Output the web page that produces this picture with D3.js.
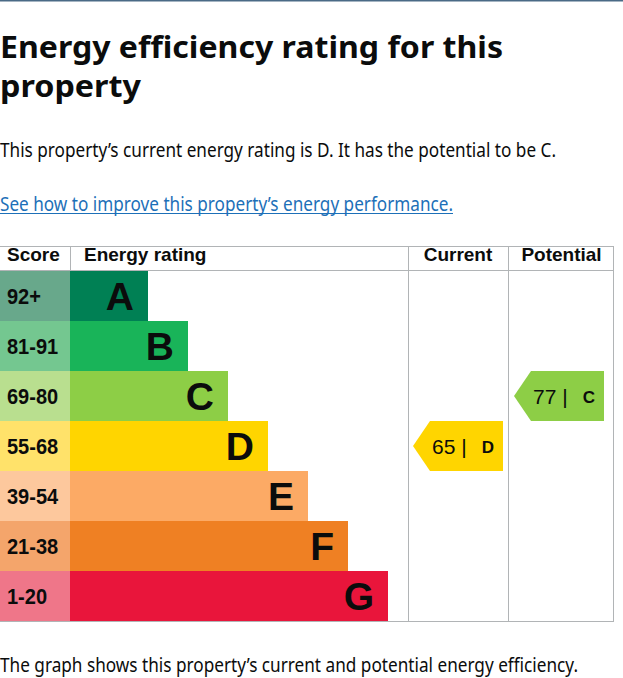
<!DOCTYPE html>
<html>
<head>
<meta charset="utf-8">
<script src="https://cdn.jsdelivr.net/npm/d3@7"></script>
<style>
  html, body { margin: 0; padding: 0; background: #fff; overflow: hidden; }
  svg { display: block; }
</style>
</head>
<body>
<div id="chart"></div>
<script>
// bands, top to bottom
const bands = ['A', 'B', 'C', 'D', 'E', 'F', 'G'];
const scoreRanges = ['92+', '81-91', '69-80', '55-68', '39-54', '21-38', '1-20'];
const bandColors = ['#008054', '#19b459', '#8dce46', '#ffd500', '#fcaa65', '#ef8023', '#e9153b'];
const scoreColors = ['#68a88b', '#74c790', '#b9df8f', '#ffe26a', '#fdc89d', '#f4a56b', '#ef7689'];
const bandSteps = [0, 1, 2, 3, 4, 5, 6]; // bar length grows one step per band

const ratings = [
  { column: 'Current', score: 65, band: 'D' },
  { column: 'Potential', score: 77, band: 'C' }
];

const W = 623, H = 678;
const sans = '"Liberation Sans", Arial, sans-serif';
const gds = '"Noto Sans", Roboto, sans-serif';

const svg = d3.select('#chart').append('svg')
  .attr('width', W)
  .attr('height', H);

// header strip line
svg.append('rect').attr('x', 0).attr('y', 0).attr('width', W).attr('height', 1.5).attr('fill', '#4a6a86');

// page text
function fitText(sel, width) {
  sel.attr('textLength', width).attr('lengthAdjust', 'spacingAndGlyphs');
}
svg.append('text').attr('x', 0).attr('y', 58)
  .attr('font-family', gds).attr('font-weight', 700).attr('font-size', 31).attr('fill', '#0b0c0c')
  .text('Energy efficiency rating for this').call(fitText, 503);
svg.append('text').attr('x', 0).attr('y', 97)
  .attr('font-family', gds).attr('font-weight', 700).attr('font-size', 31).attr('fill', '#0b0c0c')
  .text('property').call(fitText, 141);
svg.append('text').attr('x', 0).attr('y', 157)
  .attr('font-family', gds).attr('font-size', 19).attr('fill', '#0b0c0c')
  .text('This property’s current energy rating is D. It has the potential to be C.').call(fitText, 556);
svg.append('text').attr('x', 0).attr('y', 211)
  .attr('font-family', gds).attr('font-size', 19).attr('fill', '#1d70b8')
  .text('See how to improve this property’s energy performance.').call(fitText, 453);
svg.append('rect').attr('x', 0).attr('y', 213).attr('width', 453).attr('height', 1).attr('fill', '#1d70b8');
svg.append('text').attr('x', 0).attr('y', 672)
  .attr('font-family', gds).attr('font-size', 19).attr('fill', '#0b0c0c')
  .text('The graph shows this property’s current and potential energy efficiency.').call(fitText, 578);

// table geometry
const tableTop = 246, headBottom = 270, rowTop = 271, tableBottom = 621;
const scoreW = 70;
const cols = { Current: [408, 508], Potential: [508, 613] };

const y = d3.scaleBand().domain(bands).range([rowTop, tableBottom]).padding(0);
const x = d3.scaleLinear().domain([0, 6]).range([148, 388]);

const grid = '#b1b4b6';
const g = svg.append('g');

// rows
const rows = g.selectAll('g.row').data(bands).join('g').attr('class', 'row');
rows.append('rect')
  .attr('x', 0).attr('y', d => y(d)).attr('width', scoreW).attr('height', y.bandwidth())
  .attr('fill', (d, i) => scoreColors[i]);
rows.append('rect')
  .attr('x', scoreW).attr('y', d => y(d))
  .attr('width', (d, i) => x(bandSteps[i]) - scoreW).attr('height', y.bandwidth())
  .attr('fill', (d, i) => bandColors[i]);
rows.append('text')
  .attr('transform', d => `translate(7,${y(d) + y.bandwidth() / 2 + 8}) scale(0.91,1)`)
  .attr('font-family', sans).attr('font-weight', 700).attr('font-size', 22).attr('fill', '#0b0c0c')
  .text((d, i) => scoreRanges[i]);
rows.append('text')
  .attr('x', (d, i) => x(bandSteps[i]) - 14).attr('y', d => y(d) + y.bandwidth() / 2 + 14)
  .attr('text-anchor', 'end')
  .attr('font-family', sans).attr('font-weight', 700).attr('font-size', 39).attr('fill', '#0b0c0c')
  .text(d => d);

// grid lines
const hLine = (yy, x0, x1) => g.append('line').attr('x1', x0).attr('x2', x1).attr('y1', yy).attr('y2', yy)
  .attr('stroke', grid).attr('stroke-width', 1).attr('shape-rendering', 'crispEdges');
const vLine = (xx, y0, y1) => g.append('line').attr('x1', xx).attr('x2', xx).attr('y1', y0).attr('y2', y1)
  .attr('stroke', grid).attr('stroke-width', 1).attr('shape-rendering', 'crispEdges');
hLine(tableTop + 0.5, 0, 613.5);
hLine(headBottom + 0.5, 0, 613.5);
hLine(tableBottom + 0.5, 0, 613.5);
vLine(scoreW + 0.5, tableTop, headBottom);
vLine(408.5, tableTop, tableBottom);
vLine(508.5, tableTop, tableBottom);
vLine(613.5, tableTop, tableBottom + 1);

// header labels
const head = g.append('g').attr('font-family', sans).attr('font-weight', 700).attr('font-size', 19).attr('fill', '#0b0c0c');
head.append('text').attr('x', 7).attr('y', 261).text('Score');
head.append('text').attr('x', 84).attr('y', 261).text('Energy rating');
head.append('text').attr('x', (cols.Current[0] + cols.Current[1]) / 2).attr('y', 261).attr('text-anchor', 'middle').text('Current');
head.append('text').attr('x', (cols.Potential[0] + cols.Potential[1]) / 2 + 1).attr('y', 261).attr('text-anchor', 'middle').text('Potential');

// rating arrows
const arrowW = 90, tip = 17;
const arrows = g.selectAll('g.arrow').data(ratings).join('g').attr('class', 'arrow')
  .attr('transform', d => `translate(${cols[d.column][0] + 5 + (d.column === 'Potential' ? 1 : 0)},${y(d.band)})`);
arrows.append('path')
  .attr('d', () => {
    const h = y.bandwidth();
    return `M0,${h / 2}L${tip},0L${arrowW},0L${arrowW},${h}L${tip},${h}Z`;
  })
  .attr('fill', d => bandColors[bands.indexOf(d.band)]);
arrows.append('text')
  .attr('x', 19).attr('y', y.bandwidth() / 2 + 8)
  .attr('font-family', sans).attr('font-size', 21).attr('fill', '#0b0c0c')
  .text(d => `${d.score} |`);
arrows.append('text')
  .attr('x', arrowW - 9).attr('y', y.bandwidth() / 2 + 7)
  .attr('text-anchor', 'end')
  .attr('font-family', sans).attr('font-weight', 700).attr('font-size', 17).attr('fill', '#0b0c0c')
  .text(d => d.band);
</script>
</body>
</html>
